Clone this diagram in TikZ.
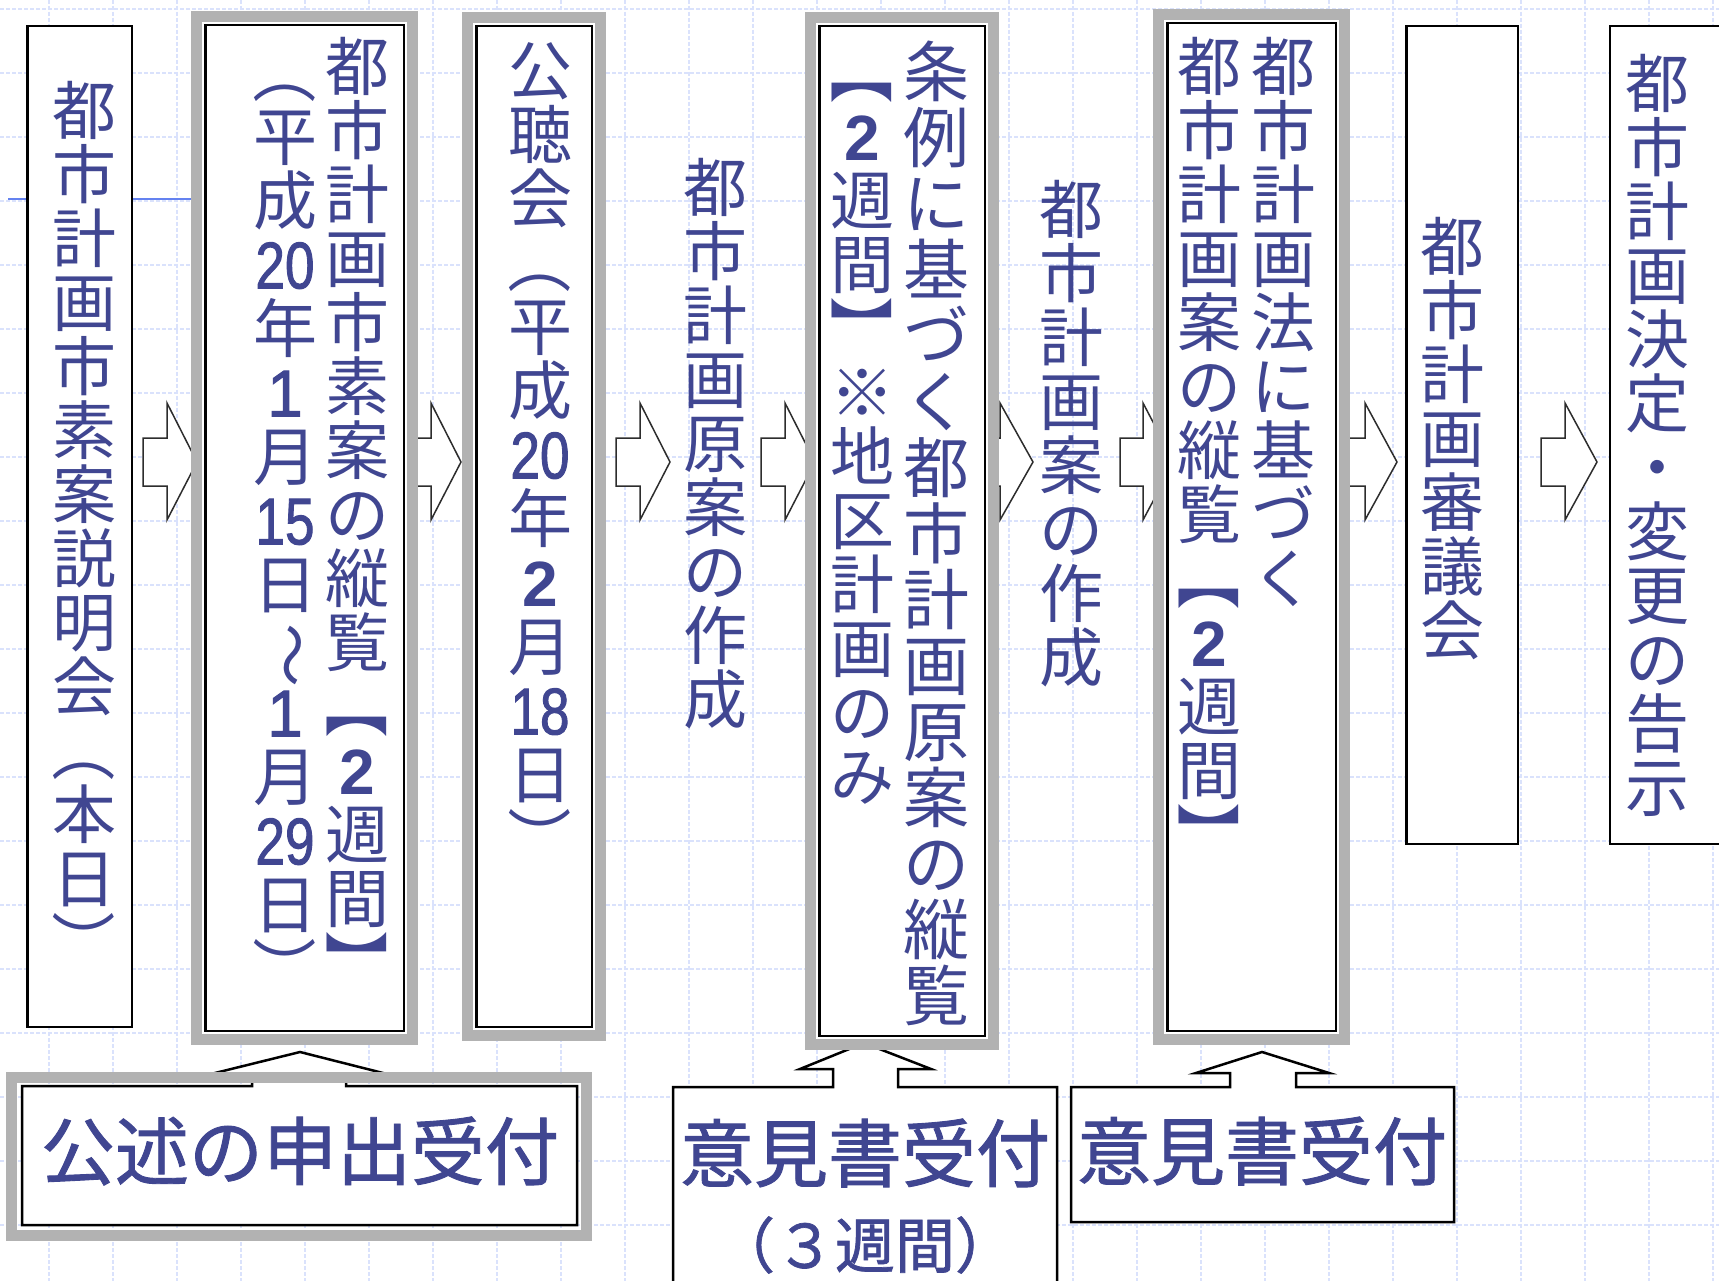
\documentclass[tikz,border=0pt]{standalone}
\usepackage{fontspec}
\usepackage{graphicx}
\newfontfamily\jp{Noto Sans CJK JP}
\newfontfamily\jpb[FakeBold=1.2]{Noto Sans CJK JP}
\newfontfamily\ls{Liberation Sans}
\newfontfamily\lsf[FakeBold=1.6]{Liberation Sans}
\definecolor{txt}{RGB}{64,70,145}
\definecolor{framegray}{RGB}{178,178,178}
\definecolor{gridc}{RGB}{218,226,252}
\definecolor{bline}{RGB}{100,130,240}
\definecolor{arrowc}{RGB}{45,45,45}
% vertical text helpers
\newcommand\cc[1]{\hbox to 1em{\hss\rule[-0.12em]{0pt}{1em}\smash{#1}\hss}}
\def\vsend{\vsend}
\newcommand\vs[1]{\vbox{\offinterlineskip\vsloop#1\vsend}}
\def\vsloop#1{\ifx\vsend#1\else\cc{#1}\expandafter\vsloop\fi}
\newcommand\vrot[1]{\rotatebox[origin=c]{-90}{#1}}
\newcommand\tcy[1]{\scalebox{0.83}[1.03]{\lsf #1}}
\def\lp{\vrot{（}}
\def\rp{\vrot{）}}
\def\lb{\vrot{【}}
\def\rb{\vrot{】}}
\def\wv{\vrot{〜}}
\def\nA{\tcy{20}}
\def\nB{\tcy{15}}
\def\nC{\tcy{29}}
\def\nD{\tcy{18}}
\def\one{\scalebox{1}[1.03]{\lsf 1}}
\def\two{{\ls\bfseries 2}}
\begin{document}
\begin{tikzpicture}[x=1pt,y=-1pt,
  gridline/.style={draw=gridc, line width=1.2, dash pattern=on 4pt off 2pt},
  blockarrow/.style={draw=arrowc, line width=1.5, fill=white, line join=miter},
  plainbox/.style={draw=black, line width=2.5, fill=white, inner sep=0, outer sep=0},
  framebox/.style={plainbox, preaction={draw=framegray, line width=28.5}, preaction={draw=white, line width=6.5}},
  grayframe/.style={draw=framegray, line width=11, inner sep=0, outer sep=0},
  callout/.style={draw=black, line width=2.5, fill=white, line join=miter},
  vtext/.style={anchor=north, inner sep=0, outer sep=0, text=txt, font=\jp\fontsize{64}{64}\selectfont},
  vtextb/.style={vtext, font=\jp\fontsize{66}{66}\selectfont},
  ctext/.style={inner sep=0, outer sep=0, text=txt, font=\jpb\fontsize{74}{74}\selectfont},
  ctexts/.style={ctext, font=\jpb\fontsize{60}{60}\selectfont}]
\useasboundingbox (0,0) rectangle (1719,1281);
\clip (0,0) rectangle (1719,1281);
\fill[white] (0,0) rectangle (1719,1281);
% grid
\foreach \x in {49,113,...,1713} \draw[gridline] (\x,0) -- (\x,1281);
\foreach \y in {9,73,...,1225} \draw[gridline] (0,\y) -- (1719,\y);
% stray blue line
\coordinate (bl0) at (8,199);
\coordinate (bl1) at (192,199);
\draw[draw=bline, line width=2] (bl0) -- (bl1);
% block arrows
\newcommand\barrow[3]{\draw[blockarrow] (#1,438) -- (#2,438) -- (#2,403) -- (#3,462) -- (#2,520) -- (#2,486) -- (#1,486) -- cycle;}
\barrow{143}{167}{197}
\barrow{405}{431}{461}
\barrow{616}{640}{670}
\barrow{761}{785}{815}
\barrow{976}{1000}{1033}
\barrow{1120}{1143}{1174}
\barrow{1341}{1365}{1397}
\barrow{1541}{1565}{1597}
% callouts
\draw[callout] (22,1086) -- (252,1086) -- (252,1074) -- (211,1074) -- (300,1052) -- (387,1074) -- (346,1074) -- (346,1086) -- (577,1086) -- (577,1225) -- (22,1225) -- cycle;
\node[grayframe, minimum width=575, minimum height=158] (f1) at (299,1156.5) {};
\draw[callout] (673,1087) -- (833,1087) -- (833,1069) -- (800,1069) -- (864,1043) -- (931,1069) -- (898,1069) -- (898,1087) -- (1057,1087) -- (1057,1300) -- (673,1300) -- cycle;
\draw[callout] (1071,1087) -- (1230,1087) -- (1230,1073) -- (1196,1073) -- (1262,1052) -- (1329,1073) -- (1296,1073) -- (1296,1087) -- (1454,1087) -- (1454,1222) -- (1071,1222) -- cycle;
% boxes
\node[plainbox, minimum width=104.5, minimum height=1000.5] (b1) at (79.5,526.5) {};
\node[framebox, minimum width=198.5, minimum height=1005.5] (b2) at (304.5,528) {};
\node[framebox, minimum width=115.5, minimum height=1000.5] (b3) at (534,526.5) {};
\node[framebox, minimum width=165.5, minimum height=1009.5] (b5) at (902,531) {};
\node[framebox, minimum width=168.5, minimum height=1007.5] (b7) at (1251.5,527) {};
\node[plainbox, minimum width=111.5, minimum height=817.5] (b8) at (1462,435) {};
\node[plainbox, minimum width=150, minimum height=817.5] (b9) at (1685,435) {};
% vertical texts
\node[vtext] (t1) at (84,78) {\vs{都市計画市素案説明会\lp 本日\rp}};
\node[vtext] (t2r) at (357,34) {\vs{都市計画市素案の縦覧\lb \two 週間\rb}};
\node[vtext] (t2l) at (285,40) {\vs{\lp 平成\nA 年\one 月\nB 日\wv \one 月\nC 日\rp}};
\node[vtext] (t3) at (540,38) {\vs{公聴会\lp 平成\nA 年\two 月\nD 日\rp}};
\node[vtext] (t4) at (715,155) {\vs{都市計画原案の作成}};
\node[vtextb] (t5r) at (936,38) {\vs{条例に基づく都市計画原案の縦覧}};
\node[vtext] (t5l) at (862,40) {\vs{\lb \two 週間\rb ※地区計画のみ}};
\node[vtext] (t6) at (1071,177) {\vs{都市計画案の作成}};
\node[vtext] (t7r) at (1283,34) {\vs{都市計画法に基づく}};
\node[vtext] (t7l) at (1209,34) {\vs{都市計画案の縦覧\lb \two 週間\rb}};
\node[vtext] (t8) at (1452,214) {\vs{都市計画審議会}};
\node[vtext] (t9) at (1657,51) {\vs{都市計画決定・変更の告示}};
% callout texts
\node[ctext] (c1) at (300,1151) {公述の申出受付};
\node[ctext] (c2) at (865,1153) {意見書受付};
\node[ctexts] (c2b) at (865,1245) {（３週間）};
\node[ctext] (c3) at (1262,1151) {意見書受付};
\end{tikzpicture}
\end{document}
